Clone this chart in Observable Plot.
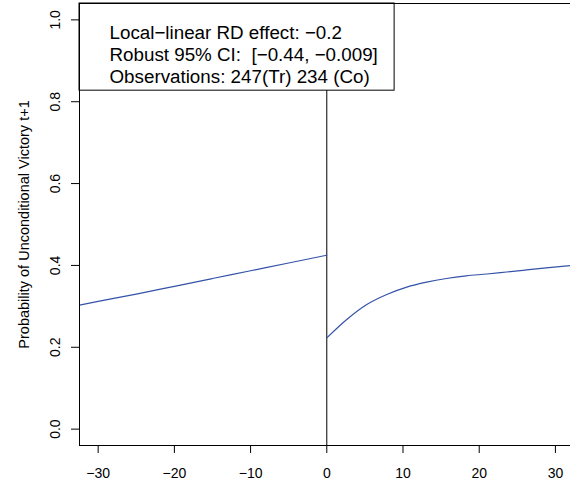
<!DOCTYPE html>
<html><head><meta charset="utf-8">
<script src="https://cdn.jsdelivr.net/npm/d3@7"></script>
<script src="https://cdn.jsdelivr.net/npm/@observablehq/plot@0.6"></script>
<style>html,body{margin:0;padding:0;background:#fff;} #chart{width:570px;height:487px;}</style>
</head><body><div id="chart"></div>
<script>
// Data
const leftX  = [-32.45, -30, -25, -20, -15, -10, -5, 0];
const leftY  = [0.303, 0.312, 0.330, 0.349, 0.368, 0.387, 0.406, 0.425];
const rightX = [0, 2.62, 5.25, 7.87, 10.5, 13.1, 15.7, 18.3, 21.0, 23.6, 26.2, 28.8, 32.0];
const rightY = [0.223, 0.268, 0.3045, 0.329, 0.347, 0.359, 0.368, 0.3745, 0.379, 0.384, 0.389, 0.394, 0.3997];
const cutoff = [0];
const xTicks = [-30, -20, -10, 0, 10, 20, 30];
const yTicks = [0, 0.2, 0.4, 0.6, 0.8, 1.0];
const legendLines = ["Local\u2212linear RD effect: \u22120.2", "Robust 95% CI:  [\u22120.44, \u22120.009]", "Observations: 247(Tr) 234 (Co)"];
const yLabel = "Probability of Unconditional Victory t+1";

const xDomain = [-32.45, 31.98];
const yDomain = [-0.04, 1.04];
const legendBox = [{x1: xDomain[0], x2: 8.9, y1: 0.827, y2: yDomain[1]}];

const L = leftX.map((x, i) => ({x, y: leftY[i]}));
const R = rightX.map((x, i) => ({x, y: rightY[i]}));
const lineColor = "#3452a8";

const plot = Plot.plot({
  width: 570, height: 487,
  marginLeft: 79, marginRight: 0, marginTop: 3, marginBottom: 42,
  style: {fontFamily: "'Liberation Sans', Arial, Helvetica, sans-serif", color: "black", background: "white"},
  x: {domain: xDomain, label: null},
  y: {domain: yDomain, label: null},
  marks: [
    Plot.ruleX(cutoff, {stroke: "black", strokeWidth: 1}),
    Plot.line(L, {x: "x", y: "y", stroke: lineColor, strokeWidth: 1.2, curve: "monotone-x", clip: true}),
    Plot.line(R, {x: "x", y: "y", stroke: lineColor, strokeWidth: 1.2, curve: "monotone-x", clip: true}),
    Plot.rect(legendBox, {x1: "x1", x2: "x2", y1: "y1", y2: "y2", fill: "white", stroke: "black", strokeWidth: 1}),
    Plot.text([legendLines.join("\n")], {frameAnchor: "top-left", dx: 30, dy: 20, lineAnchor: "top", lineHeight: 1.17, fontSize: 18.8, textAnchor: "start", fill: "black"}),
    Plot.frame({anchor: "left", stroke: "black"}),
    Plot.frame({anchor: "top", stroke: "black"}),
    Plot.frame({anchor: "bottom", stroke: "black"}),
    Plot.axisX(xTicks, {tickSize: 8, tickPadding: 15, fontSize: 14, label: null}),
    Plot.axisY(yTicks, {tickSize: 8, tickFormat: () => "", label: null}),
    Plot.text(yTicks, {y: d => d, text: d => d3.format(".1f")(d), frameAnchor: "left", dx: -24, rotate: -90, fontSize: 14, textAnchor: "middle", lineAnchor: "middle", fill: "black"}),
    Plot.text([yLabel], {frameAnchor: "left", dx: -55, rotate: -90, fontSize: 14.5, textAnchor: "middle", lineAnchor: "middle", fill: "black"})
  ]
});
document.getElementById("chart").appendChild(plot);
</script>
</body></html>
